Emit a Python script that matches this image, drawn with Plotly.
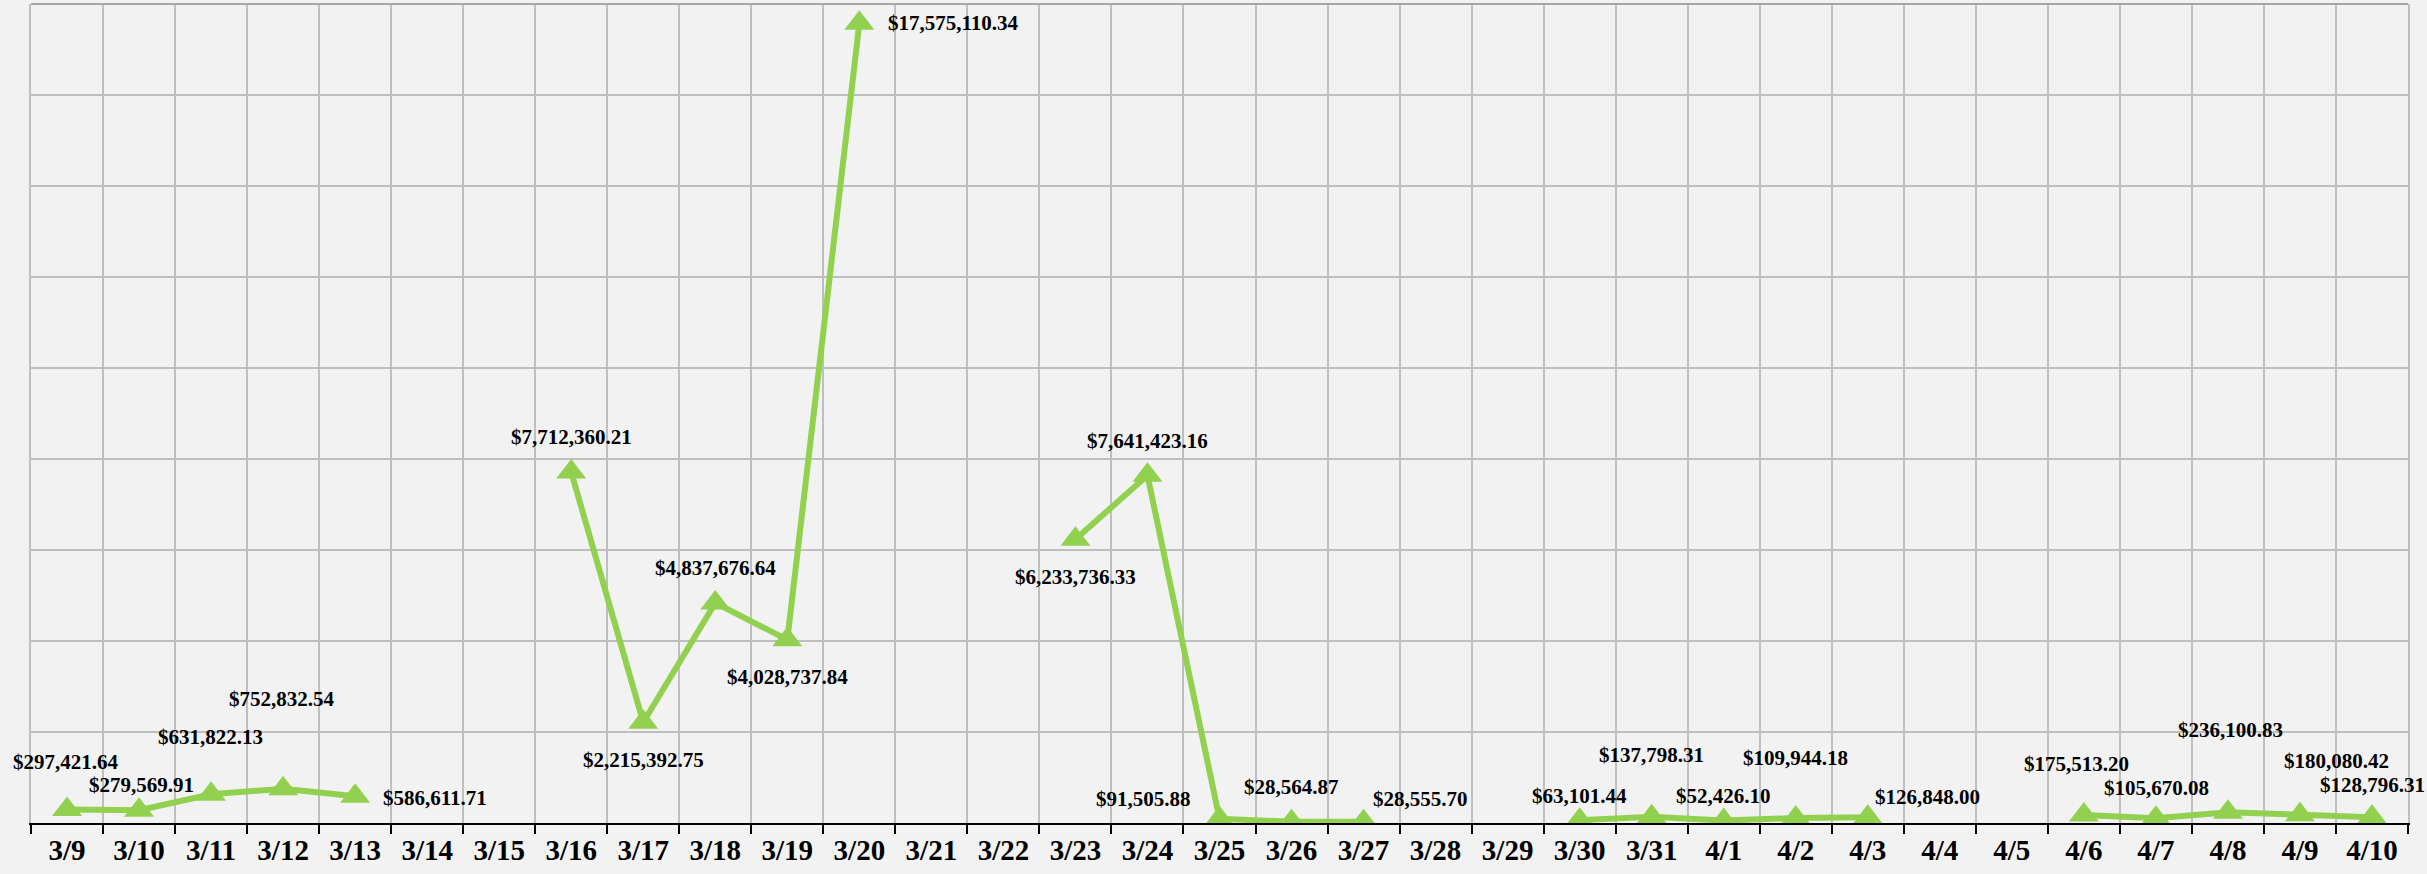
import plotly.graph_objects as go

# Daily totals, 3/9 - 4/10 (None = no data that day)
dates = ["3/9", "3/10", "3/11", "3/12", "3/13", "3/14", "3/15", "3/16", "3/17", "3/18",
         "3/19", "3/20", "3/21", "3/22", "3/23", "3/24", "3/25", "3/26", "3/27", "3/28",
         "3/29", "3/30", "3/31", "4/1", "4/2", "4/3", "4/4", "4/5", "4/6", "4/7",
         "4/8", "4/9", "4/10"]
amounts = [297421.64, 279569.91, 631822.13, 752832.54, 586611.71, None, None,
           7712360.21, 2215392.75, 4837676.64, 4028737.84, 17575110.34, None, None,
           6233736.33, 7641423.16, 91505.88, 28564.87, 28555.70, None, None,
           63101.44, 137798.31, 52426.10, 109944.18, 126848.00, None, None,
           175513.20, 105670.08, 236100.83, 180080.42, 128796.31]

# Pixel offsets of each value label from its marker (dx, dy; dy up)
label_offsets = [(-1, 47), (2, 25), (-1, 57), (-1, 90), (80, -2), None, None,
                 (0, 35), (0, -38), (0, 35), (0, -37), (94, 0), None, None,
                 (0, -38), (0, 34), (-76, 20), (0, 35), (57, 23), None, None,
                 (0, 24), (0, 62), (0, 25), (0, 60), (60, 20), None, None,
                 (-7, 51), (1, 30), (3, 82), (37, 54), (1, 32)]

GREEN = "#92d050"
GRID = "#bfbfbf"
SERIF = "Liberation Serif, Times New Roman, serif"

fig = go.Figure()
fig.add_trace(go.Scatter(
    x=dates, y=amounts, mode="lines+markers",
    connectgaps=False,
    line=dict(color=GREEN, width=6),
    marker=dict(symbol="triangle-up", size=26, color=GREEN),
    hoverinfo="skip", showlegend=False,
))

for d, v, off in zip(dates, amounts, label_offsets):
    if v is None:
        continue
    dx, dy = off
    fig.add_annotation(
        x=d, y=v, text=f"${v:,.2f}", showarrow=False,
        xshift=dx, yshift=dy,
        font=dict(family=SERIF, size=21, color="black", weight="bold"),
    )

# plot-area top border
fig.add_shape(type="line", xref="paper", yref="paper", x0=0, x1=1, y0=1, y1=1,
              line=dict(color="#a6a6a6", width=2))

fig.update_layout(
    width=2427, height=874,
    margin=dict(l=31, r=19, t=4, b=51),
    paper_bgcolor="#f2f2f2", plot_bgcolor="#f2f2f2",
    xaxis=dict(
        type="category", categoryorder="array", categoryarray=dates,
        tickson="boundaries", range=[-0.5, len(dates) - 0.5],
        showgrid=True, gridcolor=GRID, gridwidth=1.5,
        ticks="outside", ticklen=9, tickwidth=2, tickcolor="black",
        showline=True, linecolor="black", linewidth=2,
        tickfont=dict(family=SERIF, size=29, color="black", weight="bold"),
    ),
    yaxis=dict(
        range=[0, 18e6], dtick=2e6, showticklabels=False,
        showgrid=True, gridcolor=GRID, gridwidth=1.5, zeroline=False,
        showline=True, linecolor=GRID, linewidth=2, mirror=True,
    ),
)

fig.write_html("out.html")
